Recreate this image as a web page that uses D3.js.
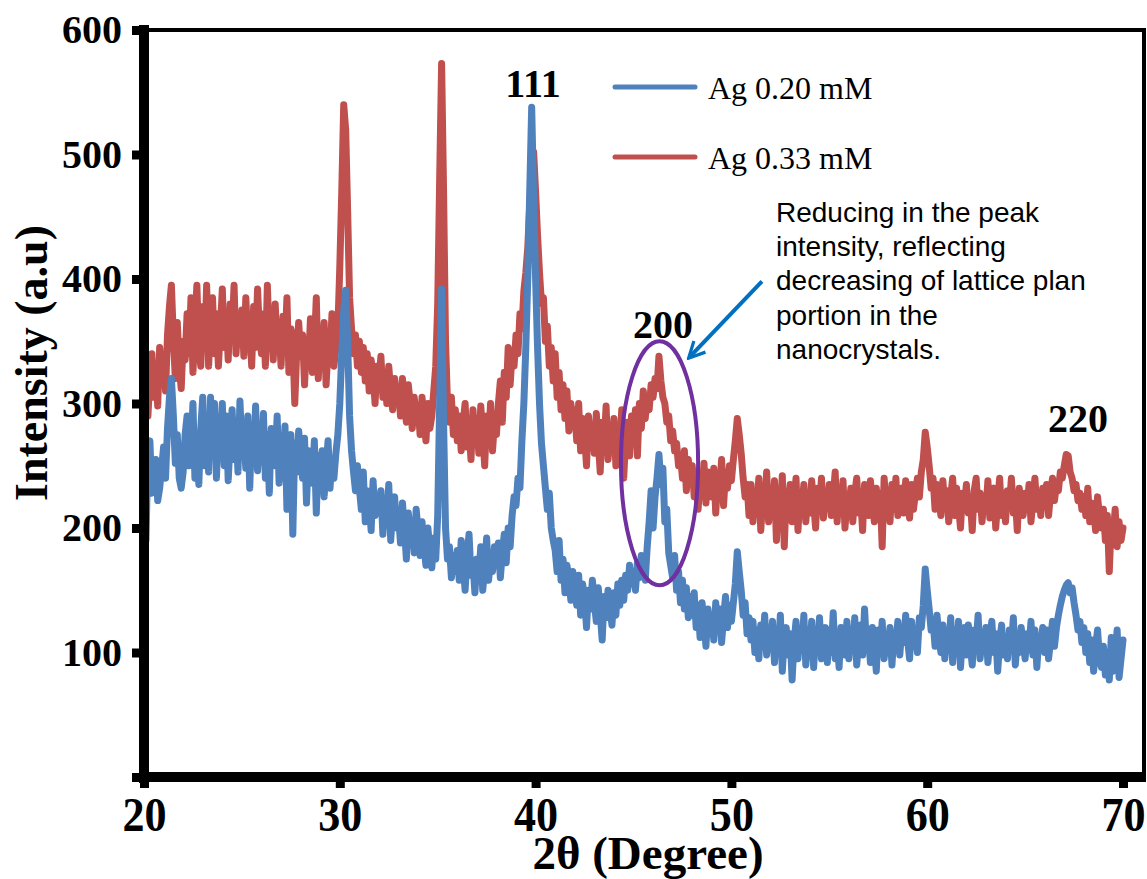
<!DOCTYPE html>
<html>
<head>
<meta charset="utf-8">
<script src="https://cdn.jsdelivr.net/npm/d3@7"></script>
<style>
  body { margin: 0; background: #fff; }
  svg { display: block; }
</style>
</head>
<body>
<svg id="chart" width="1147" height="879"></svg>
<script>
// XRD patterns, intensity sampled every 0.1 degree of 2θ from 20 to 70
const thetaStart = 20;
const thetaStep = 0.1;

const ag020 = [
  245, 190, 262, 270, 228, 240, 255, 222, 232, 248,
  265, 240, 280, 305, 320, 290, 252, 275, 240, 232,
  245, 275, 290, 250, 262, 300, 240, 270, 235, 280,
  305, 250, 290, 245, 305, 262, 300, 240, 280, 268,
  300, 250, 290, 238, 270, 295, 255, 280, 245, 302,
  262, 275, 248, 290, 232, 280, 258, 298, 246, 270,
  255, 292, 240, 275, 228, 280, 262, 250, 290, 236,
  270, 248, 282, 215, 262, 275, 195, 268, 245, 278,
  258, 240, 272, 220, 262, 250, 236, 270, 212, 258,
  245, 262, 225, 250, 270, 232, 255, 240, 260, 275,
  300, 340, 375, 391, 350, 290, 262, 245, 230, 250,
  232, 215, 245, 205, 230, 222, 198, 238, 210, 225,
  215, 230, 195, 222, 205, 235, 190, 215, 225, 200,
  210, 188, 220, 200, 175, 212, 195, 205, 180, 215,
  198, 178, 205, 185, 170, 200, 182, 168, 192, 175,
  210, 300, 392, 285, 200, 175, 185, 160, 178, 165,
  182, 158, 190, 170, 150, 178, 195, 162, 172, 148,
  175, 162, 185, 150, 168, 192, 158, 176, 165, 185,
  170, 188, 160, 180, 195, 172, 200, 185, 210, 225,
  218, 240, 232, 270, 300, 345, 400, 470, 538, 465,
  400, 345, 300, 268, 250, 232, 215, 228, 200, 190,
  182, 165, 190, 158, 175, 148, 170, 160, 142, 165,
  150, 138, 162, 130, 155, 145, 120, 150, 135, 158,
  140, 125, 152, 132, 110, 145, 128, 150, 135, 122,
  148, 130, 155, 138, 158, 142, 162, 150, 170, 155,
  165, 150, 172, 160, 178, 165, 158, 185, 205, 230,
  200, 225, 240, 259, 235, 248, 205, 215, 180, 170,
  160, 178, 150, 165, 140, 158, 135, 152, 128, 145,
  130, 148, 120, 138, 112, 140, 125, 105, 135, 118,
  130, 110, 140, 120, 135, 108, 128, 145, 120, 138,
  125, 140, 155, 181, 165, 150, 130, 140, 115, 128,
  110, 125, 100, 118, 95, 122, 105, 130, 98, 115,
  108, 125, 92, 118, 100, 130, 85, 112, 120, 98,
  115, 78, 108, 125, 95, 118, 102, 130, 90, 112,
  100, 125, 88, 115, 105, 128, 95, 110, 120, 92,
  118, 100, 132, 95, 112, 88, 120, 105, 98, 125,
  95, 115, 102, 128, 90, 110, 122, 98, 135, 105,
  112, 92, 120, 105, 85, 118, 100, 125, 95, 110,
  102, 120, 90, 115, 105, 125, 98, 118, 108, 130,
  110, 95, 125, 105, 118, 100, 128, 120, 138, 167,
  150, 135, 118, 125, 105, 130, 112, 100, 122, 95,
  115, 105, 128, 92, 118, 100, 125, 88, 112, 120,
  98, 122, 105, 90, 118, 108, 130, 95, 112, 102,
  120, 92, 110, 125, 100, 115, 85, 108, 122, 98,
  112, 95, 118, 105, 128, 90, 110, 100, 120, 108,
  95, 115, 102, 125, 98, 118, 88, 112, 105, 120,
  100, 118, 95, 110, 125, 105, 120, 130, 138, 145,
  150, 154, 156, 148, 152, 140, 130, 118, 125, 108,
  120, 100, 115, 92, 110, 85, 105, 118, 95, 88,
  105, 82, 100, 78, 112, 85, 98, 118, 80, 95,
  110
];

const ag033 = [
  300, 335, 290, 320, 340, 305, 330, 298, 345, 320,
  335, 310, 355, 378, 395, 352, 320, 365, 330, 312,
  350, 335, 372, 340, 385, 325, 360, 395, 345, 330,
  378, 345, 395, 330, 365, 385, 340, 372, 330, 360,
  392, 345, 370, 335, 380, 355, 395, 340, 365, 350,
  375, 338, 385, 350, 362, 330, 378, 345, 392, 355,
  340, 372, 330, 395, 350, 365, 335, 380, 345, 360,
  330, 370, 345, 385, 325, 360, 350, 300, 342, 365,
  338, 355, 315, 350, 330, 368, 325, 345, 385, 320,
  350, 330, 365, 315, 345, 335, 372, 330, 345, 360,
  410, 470, 540, 520, 455, 385, 360, 340, 355, 330,
  350, 325, 345, 318, 340, 310, 335, 325, 300, 330,
  318, 338, 305, 325, 300, 330, 310, 295, 320, 305,
  312, 290, 320, 298, 285, 315, 300, 280, 305, 290,
  298, 275, 305, 285, 270, 300, 280, 290, 310, 330,
  380, 480, 573, 470, 350, 300, 285, 305, 275, 295,
  270, 290, 262, 285, 300, 265, 280, 255, 295, 270,
  288, 260, 298, 275, 250, 290, 268, 300, 262, 285,
  275, 300, 318, 285, 325, 305, 345, 315, 340, 330,
  355, 340, 372, 360, 390, 405, 425, 460, 490, 502,
  470, 435, 405, 380, 385, 350, 362, 330, 345, 318,
  340, 305, 325, 295, 315, 288, 310, 278, 300, 285,
  295, 270, 300, 262, 288, 275, 250, 290, 268, 282,
  260, 292, 270, 245, 285, 265, 298, 255, 275, 262,
  288, 250, 278, 265, 295, 240, 272, 285, 258, 290,
  270, 295, 258, 300, 280, 310, 288, 305, 295, 315,
  305, 320, 312, 338, 318, 305, 300, 285, 290, 270,
  278, 262, 268, 250, 258, 240, 262, 230, 255, 238,
  250, 225, 245, 215, 240, 228, 252, 220, 245, 235,
  225, 248, 212, 240, 230, 255, 218, 245, 232, 250,
  238, 255, 270, 288, 275, 260, 240, 225, 235, 210,
  235, 205, 228, 215, 240, 198, 225, 218, 245, 205,
  230, 212, 238, 190, 225, 215, 242, 185, 228, 218,
  235, 205, 222, 240, 198, 228, 215, 235, 205, 225,
  212, 238, 220, 200, 232, 215, 240, 208, 228, 218,
  235, 210, 225, 245, 205, 230, 215, 238, 200, 222,
  215, 232, 205, 228, 240, 212, 225, 198, 235, 220,
  210, 238, 222, 205, 232, 215, 228, 185, 240, 218,
  228, 205, 235, 215, 240, 210, 225, 232, 212, 238,
  220, 208, 235, 215, 228, 240, 225, 245, 255, 277,
  265, 250, 232, 240, 215, 235, 222, 210, 238, 218,
  230, 205, 225, 240, 210, 232, 218, 200, 228, 215,
  235, 212, 225, 198, 230, 240, 215, 228, 205, 225,
  215, 238, 208, 225, 232, 200, 222, 240, 210, 228,
  205, 230, 218, 240, 212, 225, 198, 232, 220, 210,
  228, 215, 235, 205, 222, 240, 215, 228, 210, 232,
  218, 235, 210, 228, 240, 222, 235, 230, 245, 240,
  250, 259, 258, 245, 240, 230, 235, 222, 228, 215,
  225, 210, 232, 205, 220, 215, 198, 225, 210, 200,
  215, 190, 210, 165, 205, 195, 215, 185, 205, 190,
  200
];

const seriesNames = ["Ag 0.20 mM", "Ag 0.33 mM"];
const seriesColors = ["#4F81BD", "#C0504D"];
const xTicks = [20, 30, 40, 50, 60, 70];
const yTicks = [0, 100, 200, 300, 400, 500, 600];
const peakNames = ["111", "200", "220"];
const noteLines = [
  "Reducing in the peak",
  "intensity, reflecting",
  "decreasing of lattice plan",
  "portion in the",
  "nanocrystals."
];

const serif = "'Liberation Serif','Times New Roman',Times,serif";
const sans = "'Liberation Sans',Arial,Helvetica,sans-serif";

const svg = d3.select("#chart");
svg.append("rect").attr("width", 1147).attr("height", 879).attr("fill", "#fff");

const x = d3.scaleLinear().domain([20, 70]).range([144, 1123]);
const y = d3.scaleLinear().domain([0, 600]).range([777, 30]);
const frameRight = 1144;

// patterns: the lower-concentration trace sits on top
const line = d3.line()
  .x((d, i) => x(thetaStart + i * thetaStep))
  .y(d => y(d));

[[ag033, seriesColors[1]], [ag020, seriesColors[0]]].forEach(([vals, col]) => {
  svg.append("path")
    .datum(vals)
    .attr("d", line)
    .attr("fill", "none")
    .attr("stroke", col)
    .attr("stroke-width", 7)
    .attr("stroke-linejoin", "round")
    .attr("stroke-linecap", "round");
});

// frame
svg.append("line").attr("x1", x(20)).attr("x2", frameRight).attr("y1", y(600)).attr("y2", y(600))
  .attr("stroke", "#000").attr("stroke-width", 4);
svg.append("line").attr("x1", frameRight).attr("x2", frameRight).attr("y1", y(600) - 2).attr("y2", y(0))
  .attr("stroke", "#000").attr("stroke-width", 4);
svg.append("line").attr("x1", x(20)).attr("x2", x(20)).attr("y1", y(600) - 5).attr("y2", y(0) + 6)
  .attr("stroke", "#000").attr("stroke-width", 10);
svg.append("line").attr("x1", x(20) - 5).attr("x2", frameRight + 2).attr("y1", y(0)).attr("y2", y(0))
  .attr("stroke", "#000").attr("stroke-width", 10);

// y axis
const gy = svg.append("g").attr("transform", `translate(${x(20)},0)`)
  .call(d3.axisLeft(y).tickValues(yTicks).tickSize(12).tickPadding(10)
    .tickFormat(d => d === 0 ? "" : d));
gy.select(".domain").remove();
gy.selectAll(".tick line").attr("stroke", "#000").attr("stroke-width", 9);
gy.selectAll(".tick text")
  .attr("font-family", serif).attr("font-weight", "bold").attr("font-size", 40).attr("fill", "#000");

// x axis
const gx = svg.append("g").attr("transform", `translate(0,${y(0)})`)
  .call(d3.axisBottom(x).tickValues(xTicks).tickSize(11).tickFormat(d3.format("d")));
gx.select(".domain").remove();
gx.selectAll(".tick line").attr("stroke", "#000").attr("stroke-width", 9);
gx.selectAll(".tick text")
  .attr("font-family", serif).attr("font-weight", "bold").attr("font-size", 49).attr("fill", "#000")
  .attr("y", 54).attr("dy", 0)
  .attr("transform", "scale(0.9,1)");

// axis titles
svg.append("text")
  .attr("x", 648).attr("y", 869)
  .attr("text-anchor", "middle")
  .attr("font-family", serif).attr("font-weight", "bold").attr("font-size", 47)
  .text("2θ (Degree)");
svg.append("text")
  .attr("transform", "translate(47,363) rotate(-90)")
  .attr("text-anchor", "middle")
  .attr("font-family", serif).attr("font-weight", "bold").attr("font-size", 46)
  .text("Intensity (a.u)");

// legend
seriesNames.forEach((name, i) => {
  const ly = 87 + i * 70;
  svg.append("line").attr("x1", 615).attr("x2", 695).attr("y1", ly).attr("y2", ly)
    .attr("stroke", seriesColors[i]).attr("stroke-width", 5).attr("stroke-linecap", "round");
  svg.append("text").attr("x", 708).attr("y", ly + 12)
    .attr("font-family", serif).attr("font-size", 32).attr("fill", "#000")
    .text(name);
});

// Miller indices over the reflections
const peakPos = [[533, 97], [663, 338], [1078, 432]];
peakNames.forEach((p, i) => {
  svg.append("text").attr("x", peakPos[i][0]).attr("y", peakPos[i][1])
    .attr("text-anchor", "middle")
    .attr("font-family", serif).attr("font-weight", "bold").attr("font-size", 40)
    .text(p);
});

// ring around the (200) reflection
const ringCenter = [46.33, 252];
const ringHalf = [1.97, 98];
svg.append("ellipse")
  .attr("cx", x(ringCenter[0])).attr("cy", y(ringCenter[1]))
  .attr("rx", x(ringCenter[0] + ringHalf[0]) - x(ringCenter[0]))
  .attr("ry", y(ringCenter[1] - ringHalf[1]) - y(ringCenter[1]))
  .attr("fill", "none").attr("stroke", "#7030A0").attr("stroke-width", 4);

// arrow from the note to the ring
svg.append("defs").append("marker")
  .attr("id", "head").attr("viewBox", "0 0 10 10")
  .attr("refX", 8.5).attr("refY", 5)
  .attr("markerWidth", 5).attr("markerHeight", 5)
  .attr("orient", "auto")
  .append("path").attr("d", "M1,1 L9,5 L1,9")
  .attr("fill", "none").attr("stroke", "#0070C0").attr("stroke-width", 1.6)
  .attr("stroke-linejoin", "miter");
const arrowFrom = [51.56, 398];
const arrowTo = [47.85, 337];
svg.append("line")
  .attr("x1", x(arrowFrom[0])).attr("y1", y(arrowFrom[1]))
  .attr("x2", x(arrowTo[0])).attr("y2", y(arrowTo[1]))
  .attr("stroke", "#0070C0").attr("stroke-width", 4)
  .attr("marker-end", "url(#head)");

// note text
noteLines.forEach((t, i) => {
  svg.append("text").attr("x", 776).attr("y", 222 + i * 34.2)
    .attr("font-family", sans).attr("font-size", 28).attr("fill", "#000")
    .text(t);
});
</script>
</body>
</html>
